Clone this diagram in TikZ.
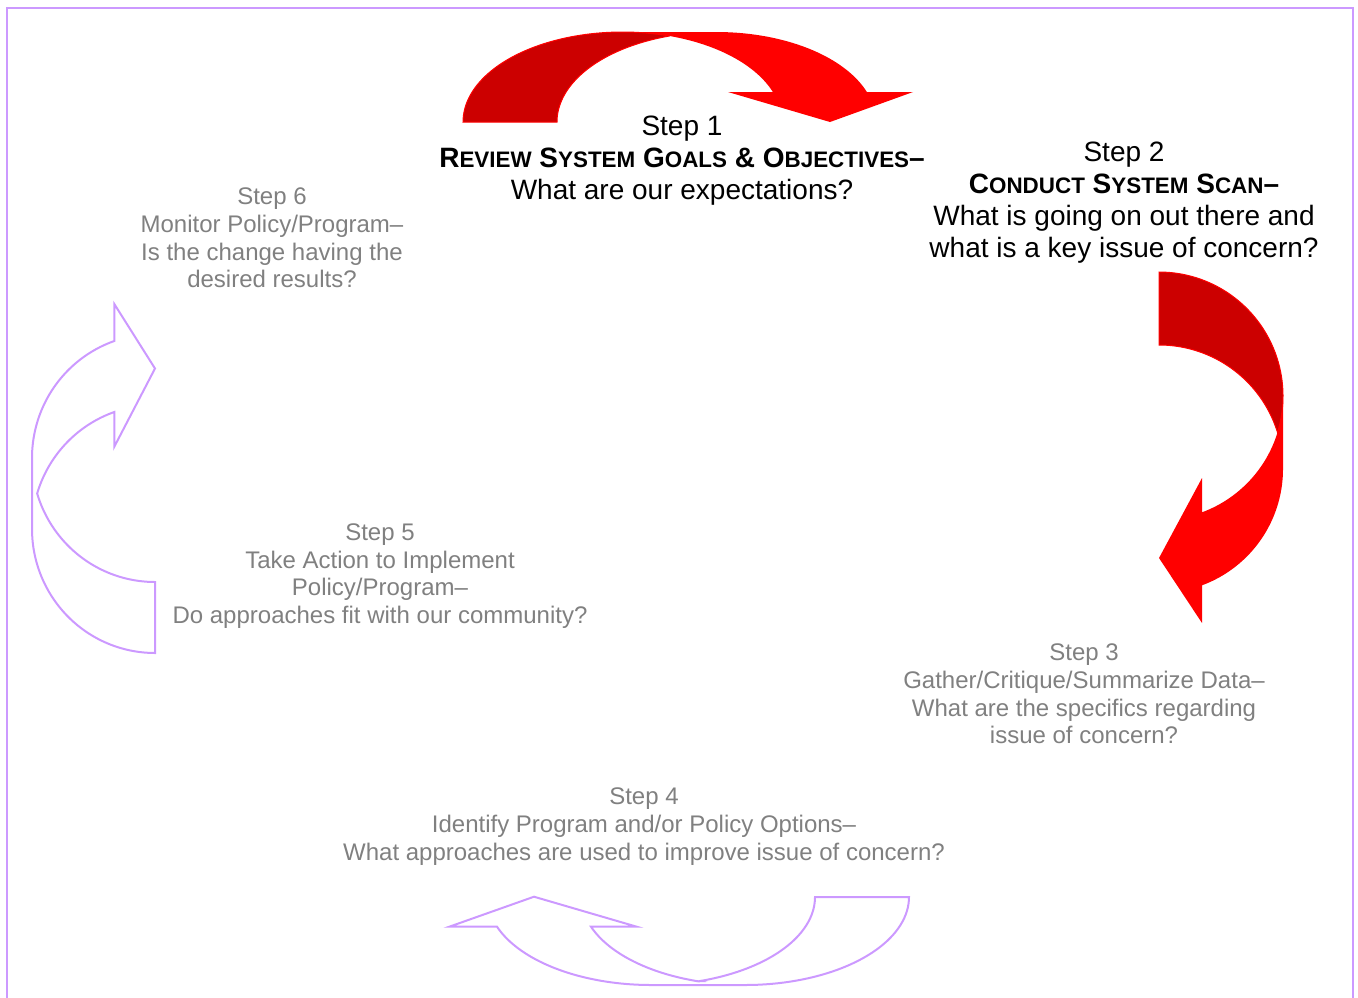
\documentclass[tikz,border=0pt]{standalone}
\usepackage{fontspec}
\setmainfont{Liberation Sans}
\definecolor{lav}{RGB}{204,153,255}
\definecolor{dkred}{RGB}{204,0,0}
\definecolor{brred}{RGB}{255,0,0}
\definecolor{stepgray}{RGB}{128,128,128}
\newcommand\smcap[1]{{\fontsize{11.2}{16}\selectfont #1}}
\begin{document}
\begin{tikzpicture}[x=0.5pt,y=-0.5pt,
  graytext/.style={text=stepgray,font=\fontsize{12}{13.8}\selectfont,align=center,inner sep=0pt},
  blacktext/.style={text=black,font=\fontsize{14}{16}\selectfont,align=center,inner sep=0pt},
  outlinearrow/.style={draw=lav,line width=1pt,line join=miter},
  brightband/.style={fill=brred},
  darkband/.style={fill=dkred,draw=brred,line width=0.5pt}]
\useasboundingbox (0,0) rectangle (1358,997);
\clip (0,0) rectangle (1358,997);
% frame
\draw[lav,line width=1pt] (7,1010) -- (7,8) -- (1353,8) -- (1353,1010);
% top red arrow
\fill[brightband] (622.5,32) -- (716.5,32)
  -- plot[domain=270:340.53,samples=40]({716.5+159.5*cos(\x)},{122+90*sin(\x)})
  -- (913,92) -- (830,122) -- (728,92)
  -- plot[domain=340.53:270,samples=40]({622.5+159.5*cos(\x)},{122+90*sin(\x)}) -- cycle;
\filldraw[darkband] plot[domain=180:287.14,samples=50]({622.5+159.5*cos(\x)},{122+90*sin(\x)})
  -- plot[domain=252.86:180,samples=50]({716.5+159.5*cos(\x)},{122+90*sin(\x)}) -- cycle;
% right red arrow
\fill[brightband] (1283,396) -- (1283,469)
  -- plot[domain=0:69.71,samples=40]({1159+124*cos(\x)},{469+124*sin(\x)})
  -- (1202,623) -- (1159,558) -- (1202,478)
  -- plot[domain=69.71:0,samples=40]({1159+124*cos(\x)},{396+124*sin(\x)}) -- cycle;
\filldraw[darkband] plot[domain=270:377.12,samples=50]({1159+124*cos(\x)},{396+124*sin(\x)})
  -- plot[domain=342.88:270,samples=50]({1159+124*cos(\x)},{469+124*sin(\x)}) -- cycle;
% left outlined arrow
\draw[outlinearrow] (155,582) -- (155,653)
  -- plot[domain=90:180,samples=40]({155+123*cos(\x)},{529+124*sin(\x)})
  -- (32,458)
  -- plot[domain=180:250.67,samples=40]({155+123*cos(\x)},{458+124*sin(\x)})
  -- (114.3,304) -- (155,368.5) -- (114.3,446.7)
  -- plot[domain=250.67:196.64,samples=40]({155+123*cos(\x)},{529+124*sin(\x)})
  -- plot[domain=163.36:90,samples=40]({155+123*cos(\x)},{458+124*sin(\x)}) -- cycle;
% bottom outlined arrow
\draw[outlinearrow] (815,897) -- (909,897)
  -- plot[domain=0:90,samples=40]({745.2+163.8*cos(\x)},{897+88*sin(\x)})
  -- (651.2,985)
  -- plot[domain=90:160.28,samples=40]({651.2+163.8*cos(\x)},{897+88*sin(\x)})
  -- (449.3,926.7) -- (534,896.7) -- (636.7,926.7)
  -- plot[domain=160.28:106.67,samples=40]({745.2+163.8*cos(\x)},{897+88*sin(\x)})
  -- plot[domain=73.33:0,samples=40]({651.2+163.8*cos(\x)},{897+88*sin(\x)}) -- cycle;
% texts
\node[blacktext] (s1) at (682,161) {Step 1\\\textbf{R\smcap{EVIEW} S\smcap{YSTEM} G\smcap{OALS} \& O\smcap{BJECTIVES}–}\\What are our expectations?};
\node[blacktext] (s2) at (1124,202.5) {Step 2\\\textbf{C\smcap{ONDUCT} S\smcap{YSTEM} S\smcap{CAN}–}\\What is going on out there and\\what is a key issue of concern?};
\node[graytext] (s3) at (1084,694) {Step 3\\Gather/Critique/Summarize Data–\\What are the specifics regarding\\issue of concern?};
\node[graytext] (s4) at (644,826.5) {Step 4\\Identify Program and/or Policy Options–\\What approaches are used to improve issue of concern?};
\node[graytext] (s5) at (380,576) {Step 5\\Take Action to Implement\\Policy/Program–\\Do approaches fit with our community?};
\node[graytext] (s6) at (272,238) {Step 6\\Monitor Policy/Program–\\Is the change having the\\desired results?};
\end{tikzpicture}
\end{document}
